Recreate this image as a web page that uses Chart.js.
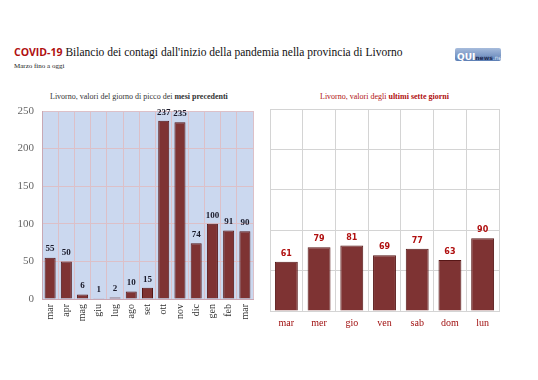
<!DOCTYPE html>
<html>
<head>
<meta charset="utf-8">
<script src="https://cdn.jsdelivr.net/npm/chart.js@4"></script>
<style>
  body { margin: 0; background: #fff; width: 538px; height: 380px; position: relative; overflow: hidden; font-family: "Liberation Serif", serif; }
  #title { position: absolute; left: 14px; top: 45px; font-size: 11.5px; color: #111; white-space: nowrap; }
  #title b { font-family: "Open Sans", sans-serif; color: #b01010; font-size: 10.5px; }
  #sub { position: absolute; left: 14px; top: 62px; font-size: 7px; color: #222; }
  #logo { position: absolute; left: 455px; top: 48px; width: 46px; height: 13px; background: linear-gradient(#a7bcdc, #5d7fb5); border-radius: 2px; font-family: "DejaVu Sans", sans-serif; line-height: 13px; white-space: nowrap; overflow: hidden; }
  #logo .q { color: #fff; font-weight: bold; font-size: 9px; margin-left: 2px; }
  #logo .n { color: #1f2d55; font-size: 6px; font-weight: bold; }
  #logo .t { color: #dfe8f5; font-size: 6px; }
  .cap { position: absolute; top: 92px; font-size: 8px; white-space: nowrap; }
  #capL { left: 50px; color: #333; }
  #capR { left: 320px; color: #b01010; }
  canvas { position: absolute; }
</style>
</head>
<body>
<div id="title"><b>COVID-19</b> Bilancio dei contagi dall'inizio della pandemia nella provincia di Livorno</div>
<div id="sub">Marzo fino a oggi</div>
<div id="logo"><span class="q">QUI</span><span class="n">news</span><span class="t">.net</span></div>
<div class="cap" id="capL">Livorno, valori del giorno di picco dei <b>mesi precedenti</b></div>
<div class="cap" id="capR">Livorno, valori degli <b>ultimi sette giorni</b></div>
<div style="position:absolute;left:0;top:105px;width:265px;height:245px"><canvas id="left"></canvas></div>
<div style="position:absolute;left:265px;top:105px;width:240px;height:245px"><canvas id="right"></canvas></div>
<script>
const monthLabels = ["mar", "apr", "mag", "giu", "lug", "ago", "set", "ott", "nov", "dic", "gen", "feb", "mar"];
const monthValues = [55, 50, 6, 1, 2, 10, 15, 237, 235, 74, 100, 91, 90];
const dayLabels = ["mar", "mer", "gio", "ven", "sab", "dom", "lun"];
const dayValues = [61, 79, 81, 69, 77, 63, 90];
const yTicks = [0, 50, 100, 150, 200, 250];

const barFill = "#7e3333";
const barEdge = "#561616";

function valueLabels(color, font) {
  return {
    id: "valueLabels",
    afterDatasetsDraw(chart) {
      const ctx = chart.ctx;
      const meta = chart.getDatasetMeta(0);
      ctx.save();
      ctx.fillStyle = color;
      ctx.font = font;
      ctx.textAlign = "center";
      ctx.textBaseline = "bottom";
      meta.data.forEach((bar, i) => {
        ctx.fillText(chart.data.datasets[0].data[i], bar.x, bar.y - 4);
      });
      ctx.restore();
    }
  };
}

const plotBg = {
  id: "plotBg",
  beforeDraw(chart, args, opts) {
    if (!opts.color) return;
    const a = chart.chartArea;
    chart.ctx.save();
    chart.ctx.fillStyle = opts.color;
    chart.ctx.fillRect(a.left, a.top, a.right - a.left, a.bottom - a.top);
    chart.ctx.restore();
  }
};

new Chart(document.getElementById("left"), {
  type: "bar",
  data: {
    labels: monthLabels,
    datasets: [{
      data: monthValues,
      backgroundColor: barFill,
      borderColor: barEdge,
      borderWidth: 1,
      barPercentage: 0.68,
      categoryPercentage: 1
    }]
  },
  options: {
    responsive: true,
    maintainAspectRatio: false,
    animation: false,
    layout: { padding: { top: 6, right: 12, bottom: 0, left: 0 } },
    plugins: {
      legend: { display: false },
      tooltip: { enabled: false },
      plotBg: { color: "#cbd8ef" }
    },
    scales: {
      x: {
        grid: { color: "#dcc0c8", drawTicks: false },
        border: { color: "#c8a8b4" },
        ticks: { color: "#333", font: { family: "Liberation Serif", size: 10 }, minRotation: 90, maxRotation: 90, padding: 5 },
        afterFit: s => { s.height = 51; s.paddingLeft = 0; s.paddingRight = 0; }
      },
      y: {
        min: 0,
        max: 250,
        afterBuildTicks: s => { s.ticks = yTicks.map(v => ({ value: v })); },
        grid: { color: "#dcc0c8", drawTicks: false },
        border: { color: "#c8a8b4" },
        ticks: { color: "#666", font: { family: "Liberation Serif", size: 11 }, padding: 8 },
        afterFit: s => { s.width = 42; s.paddingTop = 0; s.paddingBottom = 0; }
      }
    }
  },
  plugins: [plotBg, valueLabels("#1a1a2a", "bold 9px 'Liberation Serif'")]
});

new Chart(document.getElementById("right"), {
  type: "bar",
  data: {
    labels: dayLabels,
    datasets: [{
      data: dayValues,
      backgroundColor: barFill,
      borderColor: barEdge,
      borderWidth: 1,
      barPercentage: 0.7,
      categoryPercentage: 1
    }]
  },
  options: {
    responsive: true,
    maintainAspectRatio: false,
    animation: false,
    layout: { padding: { top: 4, right: 6, bottom: 0, left: 0 } },
    plugins: {
      legend: { display: false },
      tooltip: { enabled: false }
    },
    scales: {
      x: {
        grid: { color: "#d4d4d4", drawTicks: false },
        border: { color: "#d4d4d4" },
        ticks: { color: "#a01010", font: { family: "Liberation Serif", size: 10 }, padding: 6 },
        afterFit: s => { s.height = 39; }
      },
      y: {
        min: 0,
        max: 250,
        afterBuildTicks: s => { s.ticks = yTicks.map(v => ({ value: v })); },
        grid: { color: "#d4d4d4", drawTicks: false },
        border: { color: "#d4d4d4" },
        ticks: { display: false },
        afterFit: s => { s.width = 5; }
      }
    }
  },
  plugins: [valueLabels("#b01010", "bold 8px 'DejaVu Sans'")]
});
</script>
</body>
</html>
